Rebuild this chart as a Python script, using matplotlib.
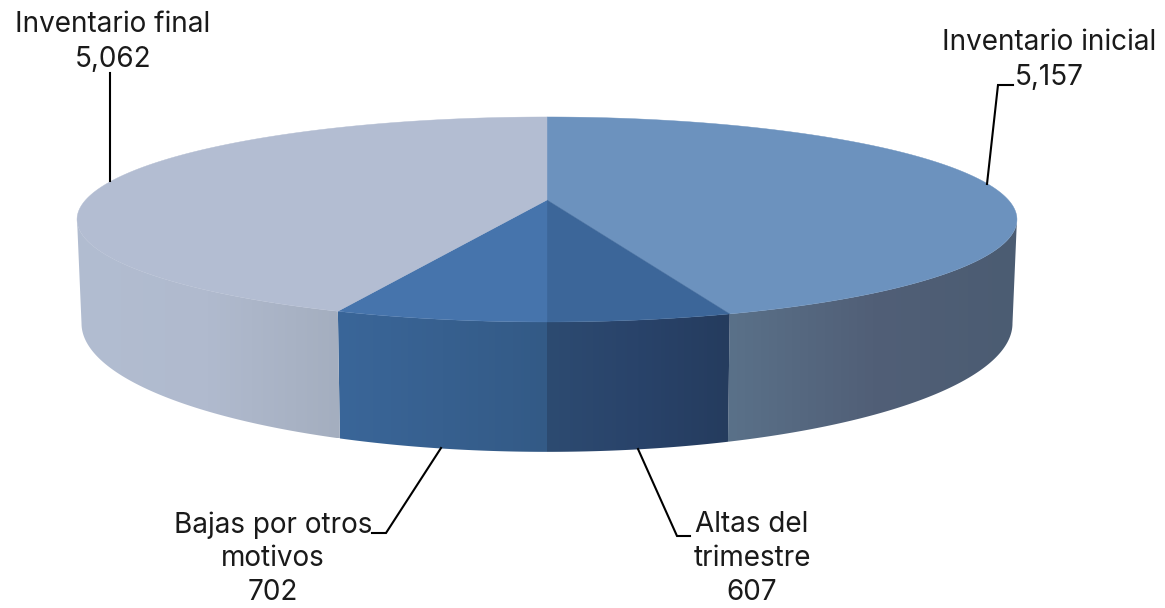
"""3D pie of the vehicle inventory movements, drawn in pixel coordinates."""

import matplotlib
matplotlib.use("Agg")
import matplotlib.pyplot as plt
import numpy as np
from matplotlib.colors import to_rgb
from matplotlib.patches import Polygon

labels = ["Inventario inicial", "Altas del\ntrimestre", "Bajas por otros\nmotivos", "Inventario final"]
values = [5157, 607, 702, 5062]
value_labels = ["5,157", "607", "702", "5,062"]

top_colors = ["#6c92be", "#3c6699", "#4674ac", "#b3bdd2"]
wall_colors = [
    ["#5a7189", "#515f77", "#4b5c72"],
    ["#2d4b71", "#29436a", "#253c5e"],
    ["#3a6699", "#37608f", "#335a86"],
    ["#b2bdd1", "#b0bace", "#a4aebf"],
]
label_pos = [(1049, 43), (752, 525), (273, 525), (113, 25)]
line_height = 34
leaders = [
    [(987, 184), (998, 85), (1013, 85)],
    [(638, 449), (677, 536), (690, 536)],
    [(441, 448), (386, 533), (372, 533)],
    [(110, 181), (110, 73)],
]

# perspective of the disc: C tilts it, the rest places it on the canvas
CX = 547
CY = 200
C = 0.19


def top_edge(theta):
    u, v = np.sin(theta), np.cos(theta)
    w = 1 + C * v
    return CX + 461.4 * u / w, (CY - 60.8 * v) / w


def bottom_edge(theta):
    u, v = np.sin(theta), np.cos(theta)
    w = 1 + C * v
    return CX + 457 * u / w, (299 - 67 * v) / w


fig = plt.figure(figsize=(11.65, 6.08), dpi=100)
ax = fig.add_axes([0, 0, 1, 1])

edges = np.deg2rad(np.concatenate([[0], np.cumsum(values) / np.sum(values) * 360]))
side_limit = np.arcsin(C)  # where the disc is widest, walls start here
wall_from = np.pi / 2 + side_limit
wall_to = 3 * np.pi / 2 - side_limit

for i in range(len(values)):
    th = np.linspace(max(edges[i], wall_from), min(edges[i + 1], wall_to), 120)
    tx, ty = top_edge(th)
    bx, by = bottom_edge(th)
    pts = np.column_stack([np.r_[tx, bx[::-1]], np.r_[ty, by[::-1]]])
    poly = Polygon(pts, closed=True, facecolor="none", edgecolor="none")
    ax.add_patch(poly)
    rgb = np.array([to_rgb(c) for c in wall_colors[i]])
    grid = np.linspace(0, 1, 256)
    img = np.stack([np.interp(grid, [0, 0.5, 1], rgb[:, k]) for k in range(3)], axis=-1)[None, :, :]
    im = ax.imshow(img, extent=[pts[:, 0].min(), pts[:, 0].max(), pts[:, 1].max(), pts[:, 1].min()],
                   aspect="auto", zorder=2)
    im.set_clip_path(poly)

for i in range(len(values)):
    tx, ty = top_edge(np.linspace(edges[i], edges[i + 1], 200))
    pts = np.column_stack([np.r_[CX, tx], np.r_[CY, ty]])
    ax.add_patch(Polygon(pts, closed=True, facecolor=top_colors[i], edgecolor=top_colors[i],
                         linewidth=0.3, zorder=3))

for path in leaders:
    xs, ys = zip(*path)
    ax.plot(xs, ys, color="black", linewidth=1.5, solid_joinstyle="miter", zorder=4)

for name, val, (x, y) in zip(labels, value_labels, label_pos):
    for k, row in enumerate(name.split("\n") + [val]):
        ax.text(x, y + k * line_height, row, ha="center", va="center", fontsize=20.1,
                family="Inter", color="#1a1a1a", zorder=5)

ax.set_xlim(0, 1165)
ax.set_ylim(608, 0)
ax.axis("off")
fig.savefig("out.png", dpi=100, facecolor="white")
